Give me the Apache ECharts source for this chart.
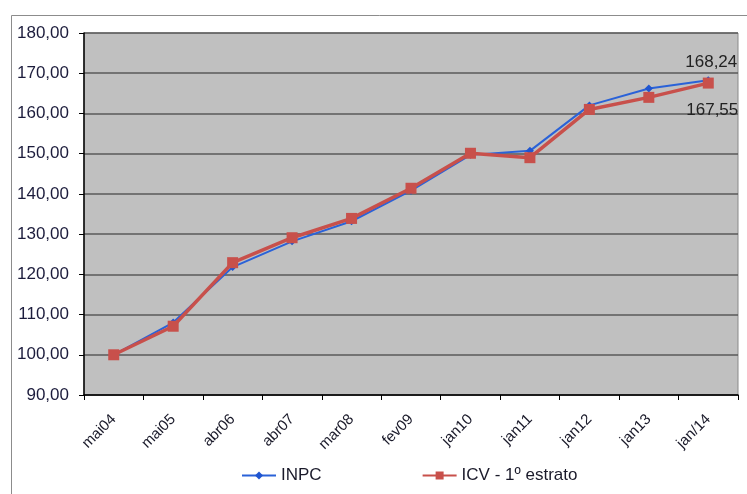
<!DOCTYPE html>
<html>
<head>
<meta charset="utf-8">
<script src="https://cdn.jsdelivr.net/npm/echarts@6/dist/echarts.min.js"></script>
<style>
html,body{margin:0;padding:0;background:#fff;}
#chart{width:747px;height:494px;}
</style>
</head>
<body>
<div id="chart"></div>
<script>
// Period labels (x axis)
const periods = ['mai04','mai05','abr06','abr07','mar08','fev09','jan10','jan11','jan12','jan13','jan/14'];
// Index series, base mai04 = 100
const inpc = [100.00, 108.0, 121.8, 128.2, 133.2, 140.8, 149.7, 150.7, 162.0, 166.2, 168.24];
const icv  = [100.00, 107.1, 122.9, 129.1, 133.9, 141.4, 150.1, 149.0, 161.0, 164.0, 167.55];
const seriesNames = ['INPC', 'ICV - 1º estrato'];

const fmt = v => v.toFixed(2).replace('.', ',');
const font = 'Liberation Sans, Arial, sans-serif';

const chart = echarts.init(document.getElementById('chart'), null, {renderer: 'canvas'});
chart.setOption({
  animation: false,
  backgroundColor: '#fff',
  graphic: [{
    type: 'rect', z: -10,
    shape: {x: 11.5, y: 15.5, width: 760, height: 500},
    style: {fill: 'none', stroke: '#8c8c8c', lineWidth: 1}
  }],
  grid: {left: 84, right: 9, top: 33, bottom: 99, show: true,
         backgroundColor: '#c0c0c0', borderColor: '#8a8a8a', borderWidth: 1},
  legend: {
    bottom: 5, left: 236, itemGap: 100, itemWidth: 34, itemHeight: 10,
    textStyle: {fontFamily: font, fontSize: 17, color: '#1a1a2a'},
    data: seriesNames
  },
  xAxis: {
    type: 'category', data: periods, boundaryGap: true,
    axisLine: {lineStyle: {color: '#000', width: 1.5}},
    axisTick: {show: true, length: 5, lineStyle: {color: '#000'}},
    axisLabel: {rotate: 45, fontFamily: font, fontSize: 15, color: '#1a1a2a', margin: 22},
    splitLine: {show: false}
  },
  yAxis: {
    type: 'value', min: 90, max: 180, interval: 10,
    axisLine: {show: true, lineStyle: {color: '#000', width: 1.5}},
    axisTick: {show: true, length: 5, lineStyle: {color: '#000'}},
    axisLabel: {formatter: fmt, fontFamily: font, fontSize: 17, color: '#1c1c3c', margin: 15},
    splitLine: {show: true, lineStyle: {color: '#5a5a5a', width: 1.5}}
  },
  series: [
    {
      name: seriesNames[0], type: 'line', data: inpc,
      symbol: 'diamond', symbolSize: 8,
      lineStyle: {color: '#2a62d8', width: 2},
      itemStyle: {color: '#1f55d0'},
      z: 2,
      label: {show: true, position: 'top', distance: 5, offset: [3, 0], fontFamily: font, fontSize: 17, color: '#222',
        formatter: p => p.dataIndex === inpc.length - 1 ? fmt(p.value) : ''}
    },
    {
      name: seriesNames[1], type: 'line', data: icv,
      symbol: 'rect', symbolSize: 11,
      lineStyle: {color: '#c8504b', width: 3.5},
      itemStyle: {color: '#c8504b'},
      z: 3,
      label: {show: true, position: 'bottom', distance: 13, offset: [4, 0], fontFamily: font, fontSize: 17, color: '#222',
        formatter: p => p.dataIndex === icv.length - 1 ? fmt(p.value) : ''}
    }
  ]
});
</script>
</body>
</html>
